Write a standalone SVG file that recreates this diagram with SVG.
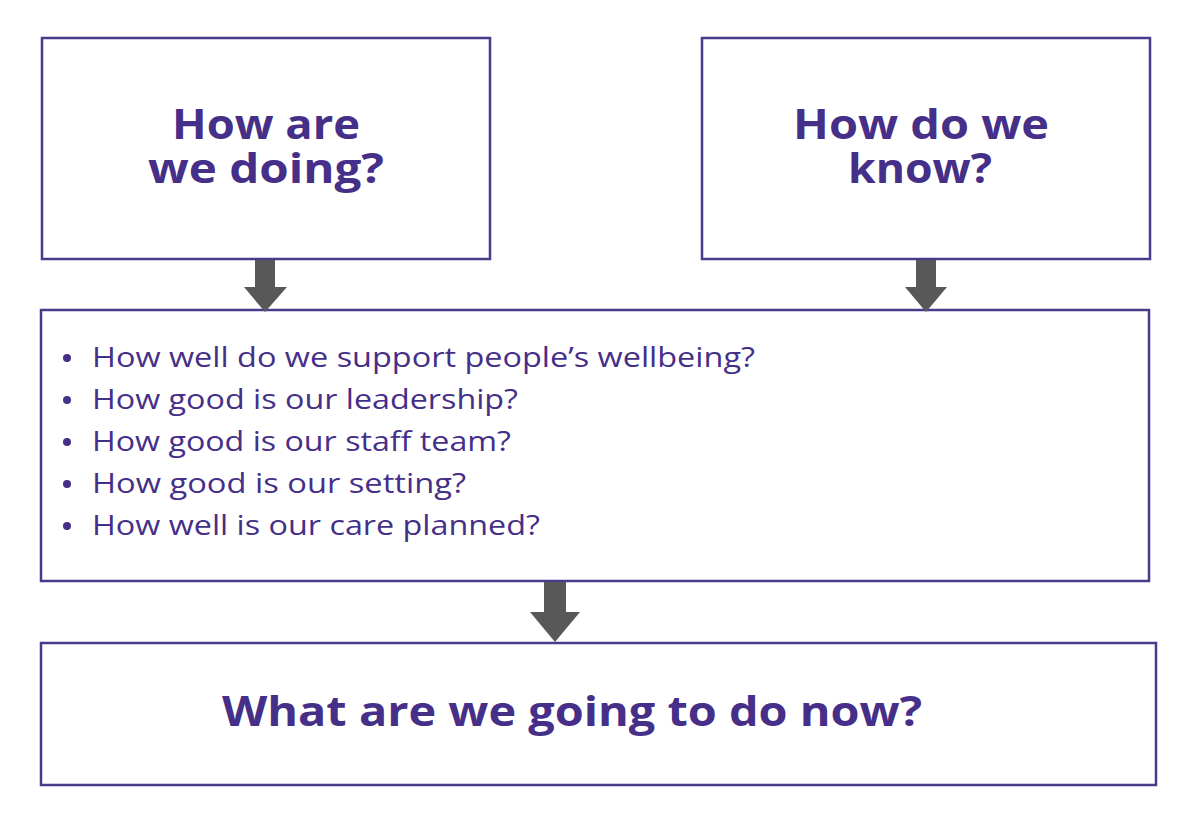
<svg xmlns="http://www.w3.org/2000/svg" width="1189" height="815" viewBox="0 0 1189 815">
<style>
.box{fill:#fff;stroke:#4b3a8a;stroke-width:2.5}
.h{font-family:"Open Sans","Liberation Sans",sans-serif;font-weight:bold;font-size:42px;fill:#452f88;text-anchor:middle}
.b{font-family:"Open Sans","Liberation Sans",sans-serif;font-size:28px;fill:#452f88}
.arr{fill:#585858}
</style>
<rect width="1189" height="815" fill="#fff"/>
<g id="n1"><rect class="box" x="42" y="38" width="448" height="221"/><text class="h" x="266" y="139" textLength="188" lengthAdjust="spacingAndGlyphs">How are</text><text class="h" x="266" y="183" textLength="236" lengthAdjust="spacingAndGlyphs">we doing?</text></g>
<g id="n2"><rect class="box" x="702" y="38" width="448" height="221"/><text class="h" x="921" y="139" textLength="256" lengthAdjust="spacingAndGlyphs">How do we</text><text class="h" x="920" y="183" textLength="144" lengthAdjust="spacingAndGlyphs">know?</text></g>
<g id="n3"><rect class="box" x="41" y="310" width="1108" height="271"/>
<g fill="#452f88"><circle cx="67" cy="358" r="4"/><circle cx="67" cy="400" r="4"/><circle cx="67" cy="442" r="4"/><circle cx="67" cy="484" r="4"/><circle cx="67" cy="526" r="4"/></g>
<text class="b" x="92" y="367" textLength="663" lengthAdjust="spacingAndGlyphs">How well do we support people’s wellbeing?</text>
<text class="b" x="92" y="409" textLength="426" lengthAdjust="spacingAndGlyphs">How good is our leadership?</text>
<text class="b" x="92" y="451" textLength="419" lengthAdjust="spacingAndGlyphs">How good is our staff team?</text>
<text class="b" x="92" y="493" textLength="374" lengthAdjust="spacingAndGlyphs">How good is our setting?</text>
<text class="b" x="92" y="535" textLength="448" lengthAdjust="spacingAndGlyphs">How well is our care planned?</text></g>
<g id="n4"><rect class="box" x="41" y="643" width="1115" height="142"/><text class="h" x="572" y="726" textLength="700" lengthAdjust="spacingAndGlyphs">What are we going to do now?</text></g>
<g id="connectors">
<polygon class="arr" points="255,260 275,260 275,287 287,287 265,312 244,287 255,287"/>
<polygon class="arr" points="916,260 936,260 936,287 947,287 926,312 905,287 916,287"/>
<polygon class="arr" points="544,582 566,582 566,612 580,612 555,642 530,612 544,612"/>
</g>
</svg>
